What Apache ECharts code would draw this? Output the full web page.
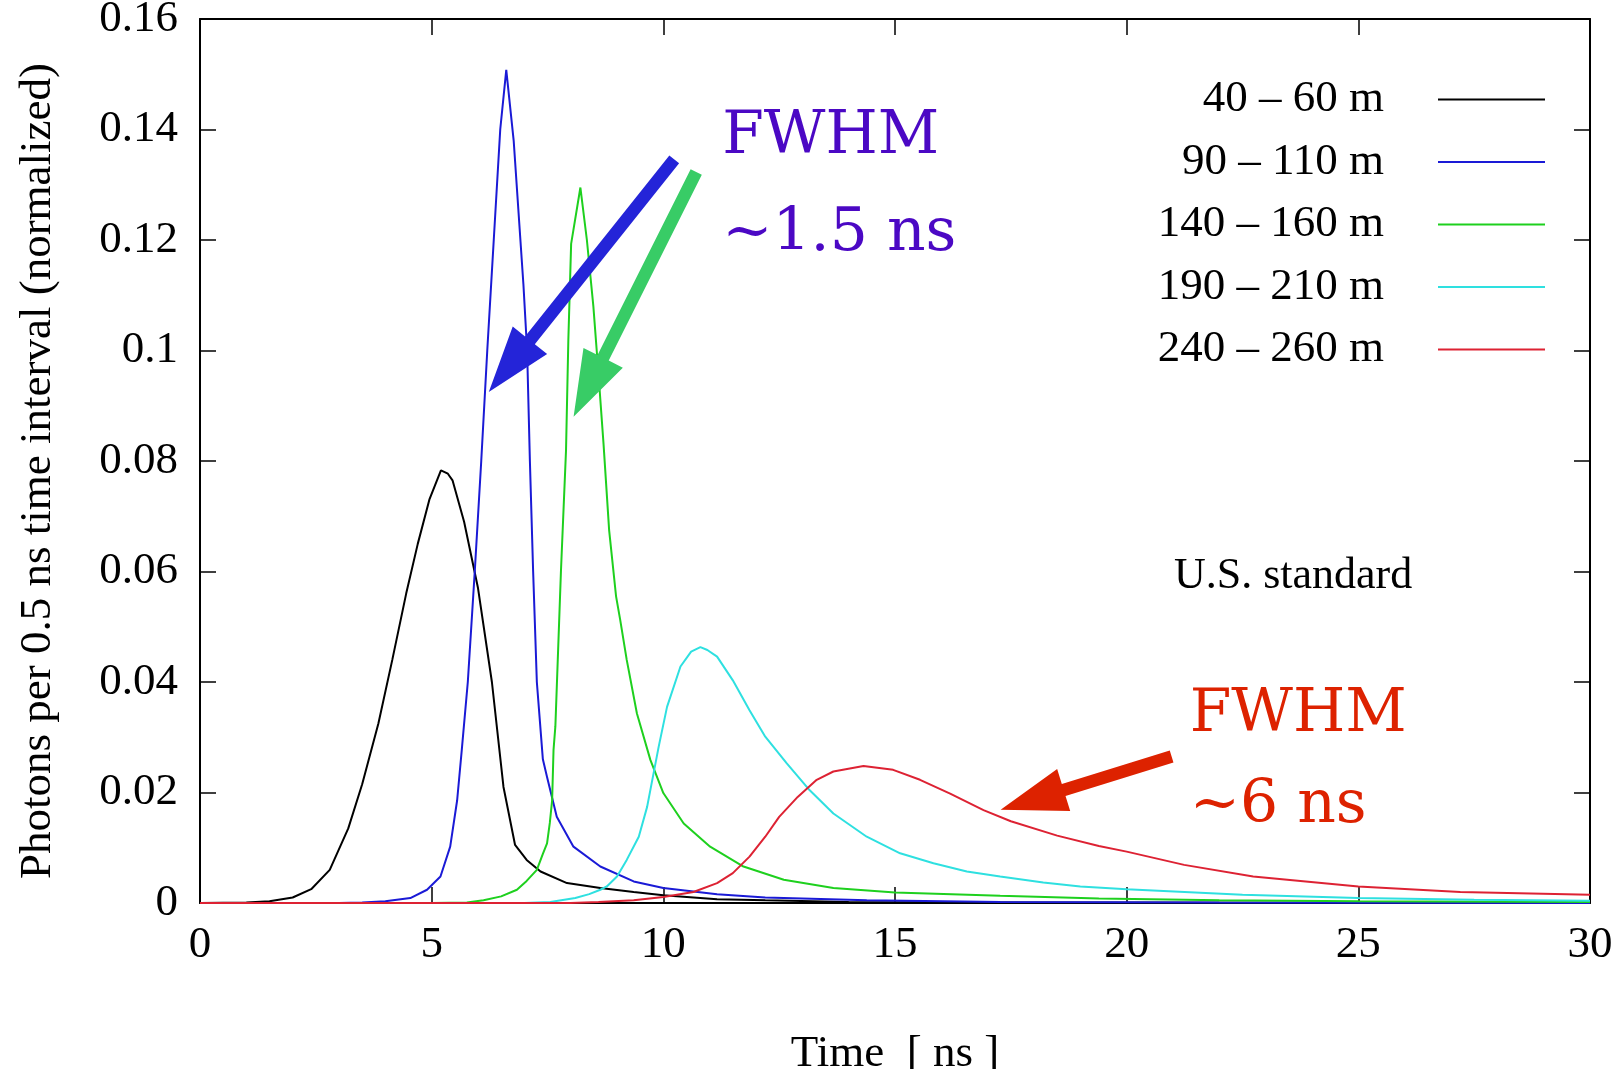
<!DOCTYPE html>
<html>
<head>
<meta charset="utf-8">
<script src="https://cdn.jsdelivr.net/npm/echarts@6/dist/echarts.min.js"></script>
<style>
html,body{margin:0;padding:0;background:#fff;}
#chart{width:1622px;height:1069px;}
</style>
</head>
<body>
<div id="chart"></div>
<script>
// ---------- data ----------
const seriesNames = ['40 – 60 m', '90 – 110 m', '140 – 160 m', '190 – 210 m', '240 – 260 m'];
const seriesColors = ['#000000', '#1a1ad6', '#1ed01e', '#2ee0e0', '#dd2233'];

const data40_60 = [[0,0],[1,0.0001],[1.5,0.0003],[2,0.001],[2.4,0.0025],[2.8,0.006],[3.2,0.0135],[3.5,0.0215],[3.85,0.0325],[4.15,0.044],[4.45,0.056],[4.7,0.065],[4.95,0.073],[5.2,0.0783],[5.35,0.0777],[5.45,0.0765],[5.7,0.069],[6.0,0.057],[6.3,0.04],[6.55,0.021],[6.8,0.0105],[7.05,0.0078],[7.35,0.0057],[7.92,0.0036],[8.64,0.0027],[9.36,0.002],[10.0,0.0014],[11.16,0.0007],[12.2,0.0005],[14,0.0002],[18,0.0001],[30,0]];

const data90_110 = [[0,0],[3,0],[3.5,0.0001],[4,0.0003],[4.54,0.0009],[4.9,0.0024],[5.19,0.0048],[5.4,0.0102],[5.55,0.0186],[5.65,0.0277],[5.78,0.04],[5.93,0.06],[6.07,0.08],[6.2,0.1],[6.34,0.12],[6.48,0.14],[6.61,0.1508],[6.77,0.138],[6.98,0.112],[7.06,0.1],[7.12,0.08],[7.19,0.06],[7.27,0.04],[7.4,0.026],[7.49,0.0228],[7.7,0.0156],[8.06,0.0102],[8.64,0.0066],[9.36,0.0039],[10.0,0.0027],[11.16,0.0016],[12.2,0.001],[14.39,0.0005],[17.27,0.0002],[22,0.0001],[30,0]];

const data140_160 = [[0,0],[5,0],[5.76,0.0001],[6.12,0.0005],[6.5,0.0012],[6.84,0.0024],[7.05,0.004],[7.27,0.006],[7.4,0.0089],[7.49,0.0108],[7.55,0.0145],[7.6,0.0186],[7.63,0.0277],[7.67,0.032],[7.79,0.06],[7.9,0.082],[7.95,0.102],[8.01,0.1193],[8.21,0.1295],[8.35,0.12],[8.49,0.108],[8.6,0.0958],[8.71,0.083],[8.83,0.0675],[8.98,0.0555],[9.07,0.0512],[9.21,0.044],[9.43,0.0343],[9.72,0.0259],[10.0,0.0199],[10.44,0.0144],[11.01,0.0102],[11.73,0.0066],[12.6,0.0042],[13.67,0.0027],[15.0,0.0019],[17.27,0.0013],[19.4,0.0008],[22,0.0005],[25,0.0003],[30,0.0002]];

const data190_210 = [[0,0],[7,0],[7.56,0.0002],[8.1,0.0009],[8.4,0.0016],[8.64,0.0024],[8.78,0.003],[9.0,0.0048],[9.21,0.0078],[9.47,0.012],[9.65,0.0174],[9.79,0.0235],[9.9,0.0283],[10.08,0.0355],[10.37,0.0428],[10.6,0.0455],[10.8,0.0463],[10.95,0.0458],[11.16,0.0446],[11.5,0.0403],[11.86,0.0349],[12.2,0.0301],[12.66,0.0253],[13.16,0.0204],[13.67,0.0162],[14.39,0.012],[15.11,0.009],[15.83,0.0072],[16.55,0.0057],[17.27,0.0048],[18.2,0.0037],[19,0.003],[20,0.0025],[22.5,0.0015],[25,0.0009],[27.5,0.0006],[30,0.0004]];

const data240_260 = [[0,0],[8,0],[8.6,0.0002],[9.36,0.0005],[10.0,0.0011],[10.65,0.002],[11.16,0.0036],[11.5,0.0054],[11.86,0.0084],[12.2,0.012],[12.5,0.0156],[12.9,0.0192],[13.31,0.0223],[13.67,0.0238],[14.32,0.0248],[14.96,0.0241],[15.54,0.0223],[16.19,0.0198],[16.91,0.0168],[17.5,0.0148],[18.5,0.0122],[19.4,0.0103],[20,0.0093],[21.24,0.0069],[22.73,0.0048],[25,0.003],[27.2,0.002],[30,0.0015]];

const allData = [data40_60, data90_110, data140_160, data190_210, data240_260];

// annotations (data coordinates)
const arrowTails = [[10.235,0.1346],[10.71,0.1323],[20.97,0.0265]];
const arrowTips = [[6.233,0.0925],[8.063,0.088],[17.28,0.0169]];
const arrowColors = ['#2424d8','#38cc66','#dd2200'];
const noteTexts = ['FWHM','~1.5 ns','FWHM','~6 ns','U.S. standard'];
const notePos = [[11.27,0.1386],[11.27,0.1211],[21.36,0.0340],[21.36,0.0174],[21.02,0.0591]];
const noteColors = ['#4b08c4','#4b08c4','#dd2200','#dd2200','#000000'];

// ---------- chart ----------
const SERIF = 'Liberation Serif';
const chart = echarts.init(document.getElementById('chart'), null, {renderer:'canvas'});

const baseAxis = {
  type:'value', splitLine:{show:false},
  axisLine:{show:true, onZero:false, lineStyle:{color:'#000', width:2}},
  axisTick:{show:true, inside:true, length:16, lineStyle:{color:'#000', width:1.5}}
};

const option = {
  animation:false,
  backgroundColor:'#fff',
  grid:{left:200, right:32, top:19, bottom:166, containLabel:false, outerBoundsMode:'none'},
  xAxis:[
    Object.assign({}, baseAxis, {
      position:'bottom', min:0, max:30, interval:5,
      axisLabel:{fontFamily:SERIF, fontSize:45, color:'#000', margin:20},
      name:'Time  [ ns ]', nameLocation:'middle', nameGap:129,
      nameTextStyle:{fontFamily:SERIF, fontSize:45, color:'#000'}
    }),
    Object.assign({}, baseAxis, {
      position:'top', min:0, max:30, interval:5, axisLabel:{show:false}
    })
  ],
  yAxis:[
    Object.assign({}, baseAxis, {
      position:'left', min:0, max:0.16, interval:0.02,
      axisLabel:{fontFamily:SERIF, fontSize:45, color:'#000', margin:22,
        formatter:function(v){return String(parseFloat(v.toFixed(2)));}},
      name:'Photons per 0.5 ns time interval (normalized)', nameLocation:'middle', nameGap:139,
      nameTextStyle:{fontFamily:SERIF, fontSize:45, color:'#000', padding:[0,20,0,0]}
    }),
    Object.assign({}, baseAxis, {
      position:'right', min:0, max:0.16, interval:0.02, axisLabel:{show:false}
    })
  ],
  legend:{
    data:seriesNames, orient:'vertical', right:72, top:72, align:'right',
    icon:'rect', itemWidth:107, itemHeight:2, itemGap:17.5,
    textStyle:{fontFamily:SERIF, fontSize:45, lineHeight:45, color:'#000', padding:[0,49,0,0]}
  },
  series: seriesNames.map(function(n,i){
    return {
      name:n, type:'line', data:allData[i], xAxisIndex:0, yAxisIndex:0,
      symbol:'none', showSymbol:false, smooth:false, silent:true,
      color:seriesColors[i],
      lineStyle:{color:seriesColors[i], width:2}
    };
  })
};
chart.setOption(option);

// ---------- annotations ----------
function px(p){ return chart.convertToPixel({xAxisIndex:0, yAxisIndex:0}, p); }
const graphics = [];
const HEAD_LEN = 66, HEAD_W = 44, SHAFT_W = 12.5;
arrowTails.forEach(function(t,i){
  const a = px(t), b = px(arrowTips[i]);
  const dx = b[0]-a[0], dy = b[1]-a[1], L = Math.sqrt(dx*dx+dy*dy);
  const ux = dx/L, uy = dy/L, nx = -uy, ny = ux;
  const bx = b[0]-ux*HEAD_LEN, by = b[1]-uy*HEAD_LEN;
  const pts = [
    [a[0]+nx*SHAFT_W/2, a[1]+ny*SHAFT_W/2],
    [bx+nx*SHAFT_W/2, by+ny*SHAFT_W/2],
    [bx+nx*HEAD_W/2, by+ny*HEAD_W/2],
    [b[0], b[1]],
    [bx-nx*HEAD_W/2, by-ny*HEAD_W/2],
    [bx-nx*SHAFT_W/2, by-ny*SHAFT_W/2],
    [a[0]-nx*SHAFT_W/2, a[1]-ny*SHAFT_W/2]
  ];
  graphics.push({type:'polygon', shape:{points:pts}, style:{fill:arrowColors[i]}, z:100, silent:true});
});
noteTexts.forEach(function(s,i){
  const p = px(notePos[i]);
  const isBig = i < 4;
  graphics.push({
    type:'text', x:p[0], y:p[1], z:101, silent:true,
    style:{
      text:s, fill:noteColors[i],
      fontFamily: isBig ? 'DejaVu Serif' : SERIF,
      fontSize: isBig ? 60 : 44,
      align:'left', verticalAlign:'middle'
    }
  });
});
chart.setOption({graphic:graphics});
</script>
</body>
</html>
